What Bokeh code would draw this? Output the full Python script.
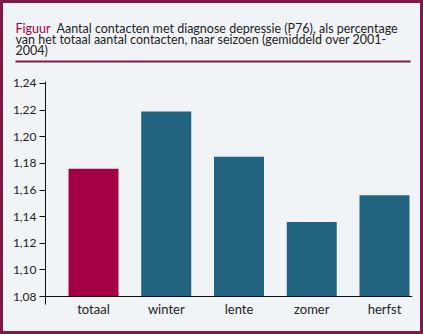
from bokeh.plotting import figure
from bokeh.layouts import column
from bokeh.models import Range1d, FixedTicker, Span, Label, BoxAnnotation
from bokeh.embed import file_html
from bokeh.resources import INLINE

categories = ["totaal", "winter", "lente", "zomer", "herfst"]
values = [1.176, 1.219, 1.185, 1.136, 1.156]
bar_colors = ["#A30044", "#22637F", "#22637F", "#22637F", "#22637F"]
y_ticks = [1.08, 1.10, 1.12, 1.14, 1.16, 1.18, 1.20, 1.22, 1.24]
y_tick_labels = ["1,08", "1,10", "1,12", "1,14", "1,16", "1,18", "1,20", "1,22", "1,24"]
title_word = "Figuur"
title_lines = ["Aantal contacten met diagnose depressie (P76), als percentage",
               "van het totaal aantal contacten, naar seizoen (gemiddeld over 2001-",
               "2004)"]

FONT = "Lato"
BG = "#F1F4F7"
MAROON = "#7D1A48"
TXT = "#222222"

W = 417
TH = 62
CH = 334 - 6 - TH

# ---- title panel ----
t = figure(width=W, height=TH, output_backend="svg", toolbar_location=None,
           x_range=Range1d(0, W), y_range=Range1d(TH, 0),
           min_border=0, x_axis_type=None, y_axis_type=None)
t.frame_align = False
t.background_fill_color = BG
t.border_fill_color = BG
t.outline_line_color = None
t.grid.visible = False
t.add_layout(Label(x=12, y=25, text=title_word, text_font=FONT, text_font_size="12.5px",
                   text_color="#A30044", text_baseline="alphabetic"))
for i, line in enumerate(title_lines):
    t.add_layout(Label(x=53 if i == 0 else 12, y=25 + 11 * i, text=line, text_font=FONT,
                       text_font_size="12.5px", text_color=TXT, text_baseline="alphabetic"))
t.add_layout(BoxAnnotation(left=12, right=407, top=57, bottom=59, fill_color=MAROON,
                           fill_alpha=1, line_color=None))

# ---- chart ----
xs = list(range(len(categories)))
p = figure(width=W, height=CH, output_backend="svg", toolbar_location=None,
           x_range=Range1d(-0.66, 4.385), y_range=Range1d(1.074, 1.2415),
           min_border_left=42, min_border_right=8, min_border_top=16, min_border_bottom=27)
p.frame_align = False
p.background_fill_color = BG
p.border_fill_color = BG
p.outline_line_color = None
p.grid.visible = False

p.vbar(x=xs, top=values, bottom=1.08, width=0.687, color=bar_colors, line_color=None)
p.add_layout(Span(location=1.08, dimension="width", line_color="#111111", line_width=1.2))

ya = p.yaxis[0]
ya.ticker = FixedTicker(ticks=y_ticks)
ya.major_label_overrides = {tk: lb for tk, lb in zip(y_ticks, y_tick_labels)}
ya.major_tick_out = 6
ya.major_tick_in = 0
ya.minor_tick_line_color = None
ya.axis_line_color = "#111111"
ya.major_tick_line_color = "#111111"
ya.major_label_text_font = FONT
ya.major_label_text_font_size = "12px"
ya.major_label_text_color = TXT
ya.major_label_standoff = 3

xa = p.xaxis[0]
xa.ticker = FixedTicker(ticks=xs)
xa.major_label_overrides = {i: c for i, c in zip(xs, categories)}
xa.axis_line_color = None
xa.major_tick_line_color = None
xa.minor_tick_line_color = None
xa.major_tick_out = 0
xa.major_tick_in = 0
xa.major_label_text_font = FONT
xa.major_label_text_font_size = "13px"
xa.major_label_text_color = TXT
xa.major_label_standoff = -4

layout = column(t, p, spacing=0,
                styles={"border": "3px solid " + MAROON, "background-color": BG})

open("out.html", "w").write(file_html(layout, INLINE))
